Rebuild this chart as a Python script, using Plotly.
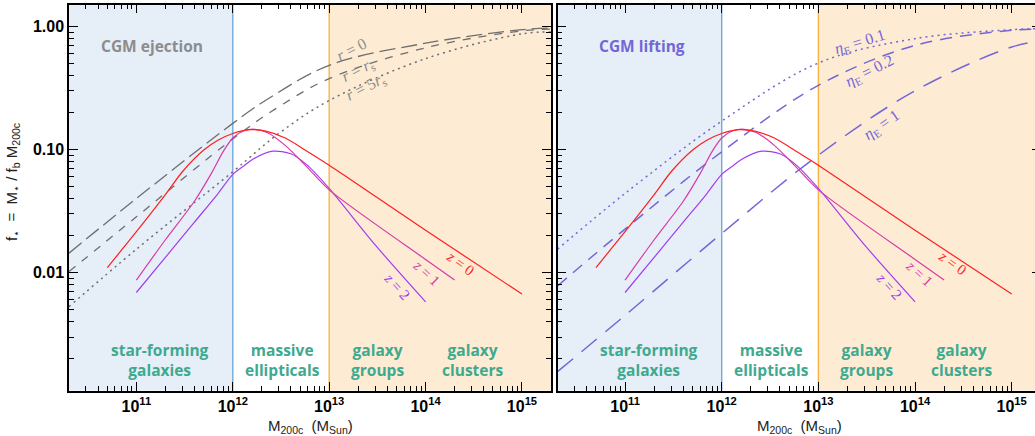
import math
import plotly.graph_objects as go

# ---- stellar mass fraction f* versus halo mass, three redshifts ----
mass_z0 = [5e10, 1e11, 2e11, 3e11, 5e11, 7e11, 1e12, 1.5e12, 2.2e12, 3.5e12, 6e12, 1e13, 1e14, 1e15]
fstar_z0 = [0.011, 0.0215, 0.043, 0.066, 0.099, 0.119, 0.135, 0.145, 0.141, 0.124, 0.096, 0.0746, 0.0221, 0.0067]

mass_z1 = [1e11, 2e11, 4e11, 6e11, 8e11, 1e12, 1.3e12, 1.7e12, 2.3e12, 3.5e12, 6e12, 1e13, 1e14, 2e14]
fstar_z1 = [0.0087, 0.0185, 0.038, 0.064, 0.097, 0.124, 0.142, 0.146, 0.137, 0.108, 0.071, 0.047, 0.0128, 0.0087]

mass_z2 = [1e11, 2e11, 4e11, 7e11, 1e12, 1.3e12, 1.6e12, 2.6e12, 4e12, 6e12, 1e13, 3e13, 1e14]
fstar_z2 = [0.0069, 0.0133, 0.0257, 0.0437, 0.0628, 0.0735, 0.083, 0.0969, 0.0925, 0.074, 0.0483, 0.0168, 0.0058]

# ---- CGM ejection limits (left panel) ----
mass_r0 = [2e10, 1e11, 1e12, 2.2e12, 1e13, 1e14, 1e15, 2e15]
f_r0 = [0.0144, 0.040, 0.163, 0.251, 0.483, 0.73, 0.94, 0.97]
mass_rs = [2e10, 1e11, 1e12, 2.8e12, 1e13, 1e14, 1e15, 2e15]
f_rs = [0.0102, 0.0284, 0.122, 0.215, 0.377, 0.67, 0.92, 0.95]
mass_r5 = [2e10, 1e11, 1e12, 3e12, 1e13, 1e14, 1e15, 2e15]
f_r5 = [0.0053, 0.0155, 0.066, 0.135, 0.25, 0.547, 0.87, 0.90]

# ---- CGM lifting limits (right panel) ----
mass_eta = [2e10, 1e11, 1e12, 1e13, 1e14, 1e15, 2e15]
f_eta01 = [0.0155, 0.044, 0.17, 0.504, 0.795, 0.94, 0.96]
f_eta02 = [0.0078, 0.0226, 0.0957, 0.332, 0.70, 0.93, 0.95]
f_eta1 = [0.00157, 0.0045, 0.0208, 0.090, 0.30, 0.68, 0.76]

# halo-mass boundaries between galaxy classes
region_edges = [1e12, 1e13]
region_names = ["star-forming<br>galaxies", "massive<br>ellipticals",
                "galaxy<br>groups", "galaxy<br>clusters"]
region_label_logm = [11.25, 12.52, 13.5, 14.49]

x_tick_vals = [1e11, 1e12, 1e13, 1e14, 1e15]
x_tick_text = ["10<sup>11</sup>", "10<sup>12</sup>", "10<sup>13</sup>",
               "10<sup>14</sup>", "10<sup>15</sup>"]
y_tick_vals = [0.01, 0.1, 1.0]
y_tick_text = ["0.01", "0.10", "1.00"]

# ---- plot geometry ----
W, H = 1035, 436
XMIN = 2e10
YMIN, YMAX = 0.0011, 1.5
left_dom = [69 / W, 551 / W]
right_dom = [557.5 / W, 1.0]
y_dom = [1 - 390.7 / H, 1 - 4.7 / H]
left_range = [math.log10(XMIN), math.log10(2e15)]
right_range = [math.log10(XMIN), 15.241]
y_range = [math.log10(YMIN), math.log10(YMAX)]

RED = "#ff1f1f"
MAGENTA = "#d93aa8"
PURPLE = "#a23cf2"
GRAY = "#6e6e6e"
GRAY_TXT = "#8c8c8c"
SLATE = "#7466d8"
TEAL = "#3fa98f"
BLUE_BG = "#e6eef8"
ORANGE_BG = "#fdecd3"
BLUE_LINE = "#74a9da"
ORANGE_LINE = "#f6b445"

fig = go.Figure()


def add_backgrounds(xa, ya, xmax):
    fig.add_trace(go.Scatter(x=[XMIN, region_edges[0], region_edges[0], XMIN],
                             y=[YMIN, YMIN, YMAX, YMAX], fill="toself",
                             fillcolor=BLUE_BG, line=dict(width=0), mode="lines",
                             xaxis=xa, yaxis=ya, hoverinfo="skip", showlegend=False))
    fig.add_trace(go.Scatter(x=[region_edges[1], xmax, xmax, region_edges[1]],
                             y=[YMIN, YMIN, YMAX, YMAX], fill="toself",
                             fillcolor=ORANGE_BG, line=dict(width=0), mode="lines",
                             xaxis=xa, yaxis=ya, hoverinfo="skip", showlegend=False))
    for edge, col in zip(region_edges, [BLUE_LINE, ORANGE_LINE]):
        fig.add_trace(go.Scatter(x=[edge, edge], y=[YMIN, YMAX], mode="lines",
                                 line=dict(color=col, width=1.4),
                                 xaxis=xa, yaxis=ya, hoverinfo="skip", showlegend=False))


def add_curve(xa, ya, xs, ys, color, width, dash="solid", smooth=0.8):
    fig.add_trace(go.Scatter(x=xs, y=ys, mode="lines",
                             line=dict(color=color, width=width, dash=dash,
                                       shape="spline", smoothing=smooth),
                             xaxis=xa, yaxis=ya, hoverinfo="skip", showlegend=False))


add_backgrounds("x", "y", 2e15)
add_backgrounds("x2", "y2", 10 ** 15.3)

# left panel: CGM ejection
add_curve("x", "y", mass_r0, f_r0, GRAY, 1.3, "16px,6px", 1.0)
add_curve("x", "y", mass_rs, f_rs, GRAY, 1.3, "8px,8px", 1.0)
add_curve("x", "y", mass_r5, f_r5, GRAY, 1.5, "2px,4px", 1.0)

# right panel: CGM lifting
add_curve("x2", "y2", mass_eta, f_eta01, SLATE, 1.5, "2px,4px", 1.0)
add_curve("x2", "y2", mass_eta, f_eta02, SLATE, 1.5, "12px,8px", 1.0)
add_curve("x2", "y2", mass_eta, f_eta1, SLATE, 1.5, "20px,11px", 1.0)

for xa, ya in [("x", "y"), ("x2", "y2")]:
    add_curve(xa, ya, mass_z2, fstar_z2, PURPLE, 1.2)
    add_curve(xa, ya, mass_z1, fstar_z1, MAGENTA, 1.2)
    add_curve(xa, ya, mass_z0, fstar_z0, RED, 1.2)

minor_x = [k * 10 ** n for n in range(10, 16) for k in range(2, 10)]
minor_y = [k * 10 ** n for n in range(-3, 1) for k in range(2, 10)]

axis_common = dict(type="log", showgrid=False, zeroline=False, showline=True,
                   linecolor="black", linewidth=1.5, ticks="inside",
                   tickcolor="black", tickwidth=1.3, mirror="ticks")
tick_font = dict(family="Liberation Sans", size=16, color="black", weight="bold")
minor_style = dict(ticks="inside", ticklen=5, tickcolor="black", tickwidth=1.1,
                   showgrid=False)

fig.update_layout(
    width=W, height=H, margin=dict(l=0, r=0, t=0, b=0),
    paper_bgcolor="white", plot_bgcolor="white", showlegend=False,
    xaxis=dict(axis_common, domain=left_dom, range=left_range, anchor="y",
               tickvals=x_tick_vals, ticktext=x_tick_text, ticklen=9,
               minor=dict(minor_style, tickvals=minor_x), tickfont=tick_font),
    xaxis2=dict(axis_common, domain=right_dom, range=right_range, anchor="y2",
                tickvals=x_tick_vals, ticktext=x_tick_text, ticklen=9,
                minor=dict(minor_style, tickvals=minor_x), tickfont=tick_font),
    yaxis=dict(axis_common, domain=y_dom, range=y_range,
               anchor="x", tickvals=y_tick_vals, ticktext=y_tick_text, ticklen=9,
               minor=dict(minor_style, tickvals=minor_y), tickfont=tick_font),
    # right panel: left frame only; its right frame runs past the page edge
    yaxis2=dict(axis_common, domain=y_dom, range=y_range, mirror=False,
                anchor="x2", tickvals=y_tick_vals, showticklabels=False, ticklen=9,
                minor=dict(minor_style, tickvals=minor_y)),
    # stubs of the right-hand ticks that reach into the page
    yaxis3=dict(type="log", domain=y_dom, range=y_range, overlaying="y2",
                anchor="x2", side="right", showline=False, showgrid=False,
                zeroline=False, ticks="inside", ticklen=3, tickwidth=1.3,
                tickcolor="black", tickvals=y_tick_vals, showticklabels=False),
)

# an empty trace so the stub axis is drawn
fig.add_trace(go.Scatter(x=[], y=[], xaxis="x2", yaxis="y3", showlegend=False))

ann = []


def text(xref, yref, logx, logy, s, color, size, family, angle=0, xanchor="center",
         bold=False):
    ann.append(dict(xref=xref, yref=yref, x=logx, y=logy, text=s, showarrow=False,
                    textangle=angle, xanchor=xanchor, yanchor="middle",
                    font=dict(family=family, size=size, color=color,
                              weight="bold" if bold else "normal")))


SANS_B = "Open Sans"
SERIF = "Liberation Serif"

# panel titles
text("x", "y", 10.616, -0.16, "CGM ejection", GRAY_TXT, 15.5, SANS_B, xanchor="left", bold=True)
text("x2", "y2", 10.707, -0.16, "CGM lifting", SLATE, 15.5, SANS_B, xanchor="left", bold=True)

# curve labels, left panel
text("x", "y", 13.23, -0.19, "<i>r</i> = 0", GRAY_TXT, 16, SERIF, angle=-27)
text("x", "y", 13.30, -0.357, "<i>r</i> = <i>r</i><sub>s</sub>", GRAY_TXT, 16, SERIF, angle=-27)
text("x", "y", 13.38, -0.497, "<i>r</i> = 5<i>r</i><sub>s</sub>", GRAY_TXT, 16, SERIF, angle=-27)

# curve labels, right panel
text("x2", "y2", 13.43, -0.127, "<i>η</i><sub>E</sub> = 0.1", SLATE, 16, SERIF, angle=-17)
text("x2", "y2", 13.53, -0.37, "<i>η</i><sub>E</sub> = 0.2", SLATE, 16, SERIF, angle=-27)
text("x2", "y2", 13.655, -0.803, "<i>η</i><sub>E</sub> = 1", SLATE, 16, SERIF, angle=-35)

# redshift labels and galaxy classes in both panels
for xr, yr, dx in [("x", "y", 0.0), ("x2", "y2", 0.03)]:
    text(xr, yr, 14.354 + dx, -1.925, "<i>z</i> = 0", RED, 15, SERIF, angle=36)
    text(xr, yr, 14.008 + dx, -2.006, "<i>z</i> = 1", MAGENTA, 15, SERIF, angle=43)
    text(xr, yr, 13.70 + dx, -2.109, "<i>z</i> = 2", PURPLE, 15, SERIF, angle=48)
    for name, lx in zip(region_names, region_label_logm):
        text(xr, yr, lx, -2.708, name, TEAL, 15.5, SANS_B, bold=True)

# axis titles
xtitle = "M<sub>200c</sub>  (M<sub>Sun</sub>)"
for cx in [(69 + 551) / 2 / W, (557.5 + 1040.8) / 2 / W]:
    ann.append(dict(xref="paper", yref="paper", x=cx, y=1 - 426 / H, text=xtitle,
                    showarrow=False, xanchor="center", yanchor="middle",
                    font=dict(family="Liberation Sans", size=15, color="#222222")))
ann.append(dict(xref="paper", yref="paper", x=12 / W, y=1 - 182 / H,
                text="f<sub>⋆</sub>  =  M<sub>⋆</sub> / f<sub>b</sub> M<sub>200c</sub>",
                showarrow=False, textangle=-90, xanchor="center", yanchor="middle",
                font=dict(family="Liberation Sans", size=15, color="#222222")))

fig.update_layout(annotations=ann)
fig.write_html("out.html")
